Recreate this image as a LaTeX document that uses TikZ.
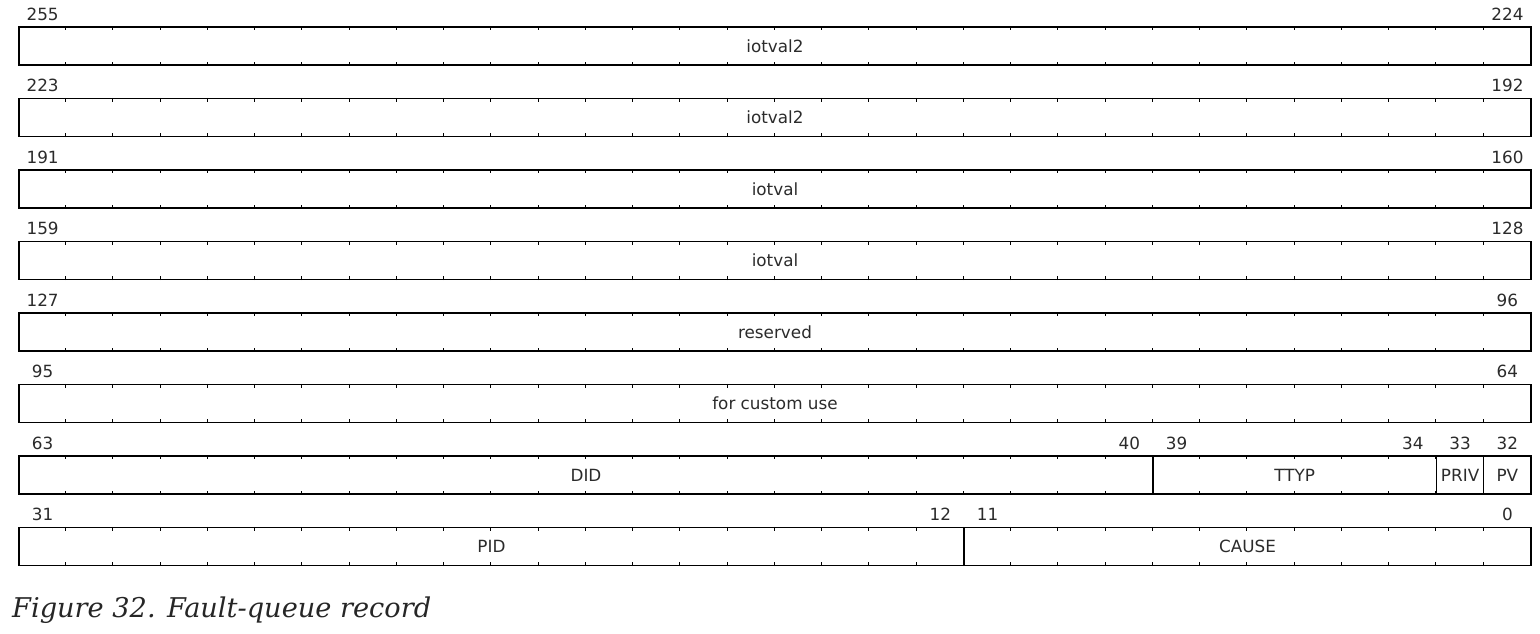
\documentclass[tikz,border=0pt]{standalone}
\usepackage{fontspec}
\usepackage{tikz}
\usetikzlibrary{calc}
\newfontfamily\regfont{DejaVu Sans}
\newfontfamily\capfont{DejaVu Serif}
\definecolor{regtext}{HTML}{2B2B2B}
\definecolor{captext}{HTML}{262626}

\begin{document}
\begin{tikzpicture}[x=1pt, y=1pt,
      font=\regfont\fontsize{16.8}{20}\selectfont,
      field/.style={draw, line width=1.4pt, minimum height=38pt, inner sep=0pt,
                    text=regtext},
      bitno/.style={inner sep=0pt, text=regtext},
      tick/.style={line width=1pt},
      caption/.style={anchor=base west, inner sep=0pt, text=captext,
                      font=\capfont\itshape\fontsize{27.2}{32}\selectfont}]

    \useasboundingbox (0,0) rectangle (1540,-633);

    % 255 .. 128
    \node[field, minimum width=1512pt] (iotval2a) at (775,-46) {iotval2};
    \node[bitno] (b255) at (42.6,-14) {255};
    \node[bitno] (b224) at (1507.4,-14) {224};

    \node[field, minimum width=1512pt] (iotval2b) at (775,-117.5) {iotval2};
    \node[bitno] (b223) at (42.6,-85.5) {223};
    \node[bitno] (b192) at (1507.4,-85.5) {192};

    \node[field, minimum width=1512pt] (iotvala) at (775,-189) {iotval};
    \node[bitno] (b191) at (42.6,-157) {191};
    \node[bitno] (b160) at (1507.4,-157) {160};

    \node[field, minimum width=1512pt] (iotvalb) at (775,-260.5) {iotval};
    \node[bitno] (b159) at (42.6,-228.5) {159};
    \node[bitno] (b128) at (1507.4,-228.5) {128};

    % 127 .. 64
    \node[field, minimum width=1512pt] (reserved) at (775,-332) {reserved};
    \node[bitno] (b127) at (42.6,-300) {127};
    \node[bitno] (b96) at (1507.4,-300) {96};

    \node[field, minimum width=1512pt] (custom) at (775,-403.5) {for custom use};
    \node[bitno] (b95) at (42.6,-371.5) {95};
    \node[bitno] (b64) at (1507.4,-371.5) {64};

    % 63 .. 32
    \node[field, minimum width=1134pt] (did) at (586,-475) {DID};
    \node[field, minimum width=283.5pt] (ttyp) at (1294.75,-475) {TTYP};
    \node[field, minimum width=47.25pt] (priv) at (1460.1,-475) {PRIV};
    \node[field, minimum width=47.25pt] (pv) at (1507.4,-475) {PV};
    \node[bitno] (b63) at (42.6,-443) {63};
    \node[bitno] (b40) at (1129.4,-443) {40};
    \node[bitno] (b39) at (1176.6,-443) {39};
    \node[bitno] (b34) at (1412.9,-443) {34};
    \node[bitno] (b33) at (1460.1,-443) {33};
    \node[bitno] (b32) at (1507.4,-443) {32};

    % 31 .. 0
    \node[field, minimum width=945pt] (pid) at (491.5,-546.5) {PID};
    \node[field, minimum width=567pt] (cause) at (1247.5,-546.5) {CAUSE};
    \node[bitno] (b31) at (42.6,-514.5) {31};
    \node[bitno] (b12) at (940.4,-514.5) {12};
    \node[bitno] (b11) at (987.6,-514.5) {11};
    \node[bitno] (b0) at (1507.4,-514.5) {0};

    \foreach \row in {iotval2a,iotval2b,iotvala,iotvalb,reserved,custom,did,pid}
      \foreach \i in {1,...,31} {
        \draw[tick] ($(\row.north west)+(\i*47.25,0)$) -- ++(0,-4);
        \draw[tick] ($(\row.south west)+(\i*47.25,0)$) -- ++(0,4);
      }

    \node[caption] (fig) at (12,-617) {Figure 32. Fault-queue record};
  \end{tikzpicture}
\end{document}
